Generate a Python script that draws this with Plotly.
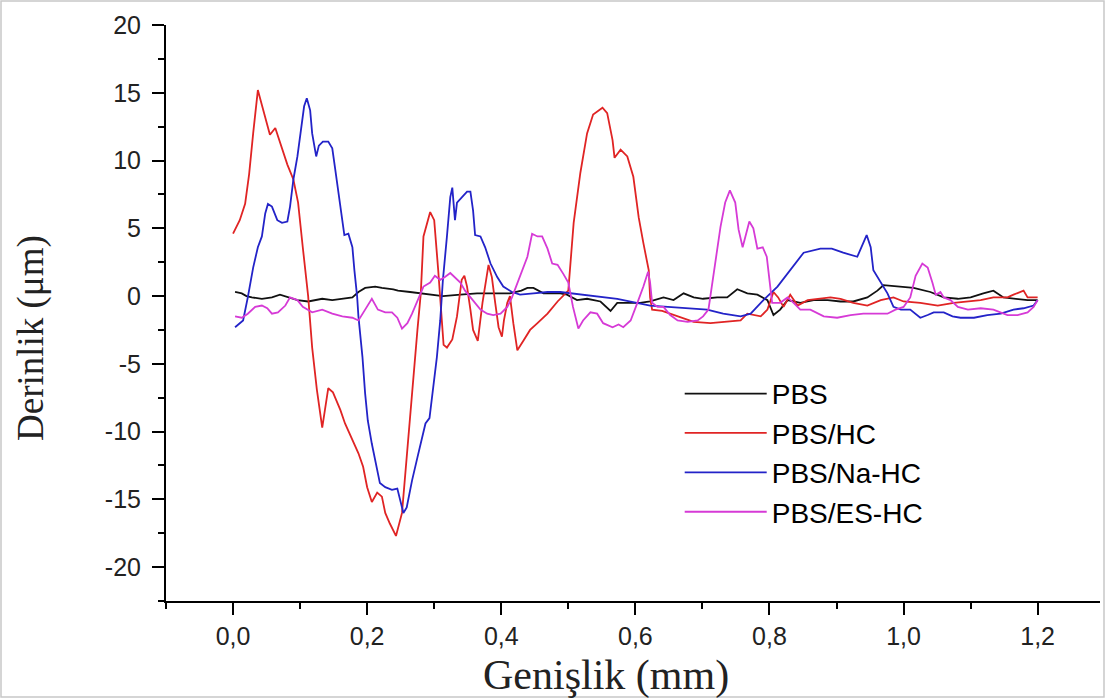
import plotly.graph_objects as go

# ---------------- data ----------------
pbs_x = [0.003, 0.013, 0.020, 0.028, 0.043, 0.058, 0.070, 0.082, 0.096, 0.112, 0.125, 0.133, 0.148, 0.163,
         0.178, 0.187, 0.197, 0.212, 0.222, 0.239, 0.246, 0.264, 0.280, 0.290, 0.313, 0.339, 0.364, 0.388,
         0.413, 0.430, 0.439, 0.448, 0.463, 0.488, 0.498, 0.513, 0.528, 0.548, 0.563, 0.573, 0.593, 0.607,
         0.622, 0.642, 0.657, 0.672, 0.687, 0.701, 0.722, 0.737, 0.752, 0.767, 0.782, 0.797, 0.806, 0.816,
         0.827, 0.846, 0.866, 0.887, 0.906, 0.925, 0.946, 0.961, 0.970, 0.991, 1.015, 1.040, 1.060, 1.081,
         1.100, 1.119, 1.134, 1.149, 1.164, 1.185, 1.200]
pbs_y = [0.3, 0.2, 0.0, -0.1, -0.2, -0.1, 0.1, -0.1, -0.3, -0.4, -0.3, -0.2, -0.3, -0.2,
         -0.1, 0.3, 0.6, 0.7, 0.6, 0.5, 0.4, 0.3, 0.2, 0.1, 0.0, 0.1, 0.2, 0.2,
         0.2, 0.4, 0.6, 0.6, 0.2, 0.2, 0.1, -0.3, -0.2, -0.4, -1.1, -0.5, -0.5, -0.5,
         -0.4, -0.1, -0.3, 0.2, -0.1, -0.2, -0.1, -0.1, 0.5, 0.2, 0.1, -0.3, -1.4, -1.0,
         -0.3, -0.5, -0.3, -0.3, -0.4, -0.4, -0.1, 0.4, 0.8, 0.7, 0.6, 0.3, -0.1, -0.2,
         -0.1, 0.2, 0.4, -0.1, -0.2, -0.3, -0.3]

hc_x = [0.000, 0.010, 0.018, 0.024, 0.030, 0.037, 0.043, 0.050, 0.055, 0.063, 0.070, 0.081, 0.090, 0.097,
        0.104, 0.112, 0.118, 0.125, 0.133, 0.142, 0.149, 0.160, 0.167, 0.178, 0.187, 0.194, 0.200, 0.207,
        0.215, 0.222, 0.227, 0.234, 0.243, 0.252, 0.264, 0.275, 0.280, 0.284, 0.294, 0.300, 0.306, 0.311,
        0.314, 0.319, 0.327, 0.334, 0.341, 0.345, 0.349, 0.354, 0.358, 0.365, 0.372, 0.381, 0.386, 0.391,
        0.396, 0.401, 0.404, 0.409, 0.413, 0.418, 0.424, 0.433, 0.443, 0.454, 0.469, 0.484, 0.500, 0.508,
        0.518, 0.528, 0.537, 0.551, 0.558, 0.566, 0.569, 0.578, 0.588, 0.597, 0.605, 0.612, 0.618, 0.620,
        0.622, 0.625, 0.640, 0.662, 0.687, 0.712, 0.737, 0.757, 0.767, 0.787, 0.797, 0.806, 0.813, 0.821,
        0.831, 0.842, 0.857, 0.872, 0.891, 0.906, 0.925, 0.946, 0.966, 0.985, 1.000, 1.025, 1.051, 1.075,
        1.096, 1.115, 1.134, 1.155, 1.164, 1.179, 1.185, 1.194, 1.200]
hc_y = [4.6, 5.6, 6.8, 9.0, 12.0, 15.2, 14.1, 12.8, 11.9, 12.4, 11.3, 9.7, 8.6, 6.9,
        3.6, 0.0, -3.8, -6.9, -9.7, -6.8, -7.1, -8.4, -9.4, -10.6, -11.6, -12.6, -14.1, -15.2,
        -14.5, -14.8, -16.0, -16.8, -17.7, -16.0, -8.6, -2.5, 0.2, 4.4, 6.2, 5.6, 1.9, -1.8,
        -3.6, -3.8, -3.2, -1.5, 1.2, 1.5, 0.7, -1.0, -2.5, -3.3, -0.5, 2.3, 1.4, -0.5,
        -2.3, -3.0, -1.8, -0.5, 0.0, -2.0, -4.0, -3.3, -2.5, -2.0, -1.3, -0.4, 0.4, 5.4,
        9.1, 12.0, 13.4, 13.9, 13.5, 11.5, 10.2, 10.8, 10.3, 8.8, 5.8, 3.9, 2.4, 1.9,
        -0.1, -1.0, -1.1, -1.5, -1.9, -2.0, -1.9, -1.8, -1.3, -1.5, -1.0, 0.3, -0.1, -0.8,
        0.1, -0.7, -0.3, -0.2, -0.1, -0.2, -0.5, -0.7, -0.3, -0.1, -0.4, -0.5, -0.7, -0.5,
        -0.4, -0.3, -0.1, -0.1, 0.1, 0.4, -0.1, -0.1, -0.1]

na_x = [0.003, 0.015, 0.022, 0.030, 0.037, 0.043, 0.048, 0.052, 0.058, 0.066, 0.073, 0.081, 0.085, 0.090,
        0.096, 0.101, 0.106, 0.110, 0.115, 0.118, 0.124, 0.128, 0.134, 0.142, 0.148, 0.152, 0.157, 0.163,
        0.166, 0.172, 0.178, 0.181, 0.185, 0.187, 0.193, 0.197, 0.201, 0.207, 0.215, 0.219, 0.227, 0.237,
        0.245, 0.249, 0.254, 0.259, 0.267, 0.275, 0.282, 0.287, 0.293, 0.298, 0.304, 0.309, 0.313, 0.319,
        0.324, 0.327, 0.331, 0.334, 0.342, 0.349, 0.354, 0.358, 0.361, 0.369, 0.376, 0.384, 0.394, 0.403,
        0.416, 0.428, 0.448, 0.469, 0.488, 0.522, 0.573, 0.622, 0.672, 0.707, 0.731, 0.757, 0.772, 0.791,
        0.812, 0.831, 0.851, 0.876, 0.893, 0.910, 0.931, 0.945, 0.951, 0.955, 0.966, 0.976, 0.985, 0.996,
        1.010, 1.025, 1.036, 1.045, 1.060, 1.073, 1.085, 1.105, 1.125, 1.145, 1.164, 1.179, 1.194, 1.200]
na_y = [-2.3, -1.8, -0.1, 2.1, 3.6, 4.4, 6.1, 6.8, 6.6, 5.6, 5.4, 5.5, 6.6, 8.6,
        10.3, 12.3, 14.0, 14.6, 13.7, 12.0, 10.3, 11.1, 11.4, 11.4, 10.9, 9.5, 7.6, 5.4,
        4.5, 4.6, 3.6, 1.9, 0.0, -1.5, -4.5, -7.2, -9.2, -10.9, -12.8, -13.8, -14.1, -14.3,
        -14.2, -15.1, -16.0, -15.6, -13.6, -11.9, -10.4, -9.4, -9.0, -7.0, -4.5, -1.8, 1.2, 4.4,
        7.3, 8.0, 5.6, 6.9, 7.3, 7.7, 7.7, 6.3, 4.5, 4.4, 3.6, 2.4, 1.4, 0.7,
        0.3, 0.1, 0.2, 0.3, 0.3, 0.1, -0.2, -0.7, -0.9, -1.0, -1.3, -1.5, -1.3, -0.3,
        0.7, 1.9, 3.2, 3.5, 3.5, 3.2, 2.9, 4.5, 3.6, 1.9, 1.0, 0.2, -0.8, -1.0,
        -1.0, -1.6, -1.4, -1.2, -1.2, -1.5, -1.6, -1.6, -1.4, -1.3, -1.0, -0.9, -0.7, -0.3]

es_x = [0.003, 0.013, 0.022, 0.033, 0.043, 0.051, 0.058, 0.067, 0.078, 0.085, 0.096, 0.104, 0.118, 0.133,
        0.148, 0.163, 0.178, 0.187, 0.197, 0.207, 0.216, 0.227, 0.237, 0.245, 0.252, 0.260, 0.267, 0.275,
        0.284, 0.294, 0.301, 0.309, 0.316, 0.324, 0.331, 0.339, 0.346, 0.354, 0.361, 0.369, 0.379, 0.388,
        0.399, 0.409, 0.416, 0.424, 0.431, 0.439, 0.446, 0.454, 0.461, 0.469, 0.476, 0.484, 0.493, 0.500,
        0.507, 0.515, 0.522, 0.533, 0.543, 0.552, 0.566, 0.575, 0.582, 0.593, 0.603, 0.612, 0.619, 0.622,
        0.625, 0.633, 0.642, 0.652, 0.663, 0.678, 0.693, 0.701, 0.709, 0.716, 0.722, 0.727, 0.734, 0.741,
        0.749, 0.754, 0.760, 0.764, 0.770, 0.776, 0.782, 0.790, 0.796, 0.800, 0.804, 0.816, 0.827, 0.836,
        0.846, 0.861, 0.881, 0.901, 0.921, 0.940, 0.961, 0.976, 0.988, 1.000, 1.010, 1.018, 1.028, 1.036,
        1.043, 1.048, 1.055, 1.060, 1.070, 1.081, 1.096, 1.115, 1.134, 1.155, 1.170, 1.185, 1.194, 1.200]
es_y = [-1.5, -1.6, -1.3, -0.8, -0.7, -0.9, -1.3, -1.2, -0.7, -0.1, -0.3, -0.8, -1.2, -1.0,
        -1.3, -1.5, -1.6, -1.8, -1.0, -0.2, -1.0, -1.2, -1.2, -1.6, -2.4, -2.0, -1.3, -0.3,
        0.7, 1.0, 1.5, 1.2, 1.4, 1.7, 1.4, 1.0, 0.4, -0.1, -0.5, -1.0, -1.3, -1.4,
        -1.3, -0.8, -0.1, 1.0, 1.9, 2.9, 4.6, 4.4, 4.4, 3.5, 2.4, 2.3, 1.6, 1.0,
        -0.8, -2.4, -1.8, -1.2, -1.3, -2.0, -2.3, -2.1, -2.3, -1.8, -0.5, 0.7, 1.8, 1.0,
        -0.5, -0.8, -0.8, -1.4, -1.8, -1.9, -1.8, -1.5, -1.0, 1.4, 3.4, 5.1, 6.9, 7.8,
        6.9, 4.9, 3.6, 4.4, 5.5, 5.0, 3.5, 3.6, 2.9, 1.2, -0.5, -0.5, -0.1, -0.5,
        -1.0, -1.0, -1.5, -1.6, -1.4, -1.3, -1.3, -1.3, -1.0, -0.8, -0.1, 1.5, 2.4, 2.1,
        1.0, 0.1, 0.3, -0.1, -0.3, -0.8, -1.0, -0.9, -1.0, -1.4, -1.4, -1.2, -0.8, -0.3]

series_names = ["PBS", "PBS/HC", "PBS/Na-HC", "PBS/ES-HC"]
series_colors = ["#111111", "#e02424", "#2323c8", "#d63ad6"]

x_tick_vals = [0.0, 0.2, 0.4, 0.6, 0.8, 1.0, 1.2]
x_tick_text = ["0,0", "0,2", "0,4", "0,6", "0,8", "1,0", "1,2"]
y_tick_vals = [-20, -15, -10, -5, 0, 5, 10, 15, 20]
y_tick_text = ["-20", "-15", "-10", "-5", "0", "5", "10", "15", "20"]

x_title = "Genişlik (mm)"
y_title = "Derinlik (μm)"

# ---------------- figure ----------------
fig = go.Figure()
for name, xs, ys, col in zip(series_names,
                             [pbs_x, hc_x, na_x, es_x],
                             [pbs_y, hc_y, na_y, es_y],
                             series_colors):
    fig.add_trace(go.Scatter(x=xs, y=ys, mode="lines", name=name,
                             line=dict(color=col, width=1.8)))

fig.update_layout(
    width=1105, height=698,
    margin=dict(l=166, r=5, t=25, b=97),
    paper_bgcolor="white", plot_bgcolor="white",
    showlegend=True,
    legend=dict(x=0.550, y=0.403, xanchor="left", yanchor="top",
                font=dict(family="Liberation Sans, Arial", size=28, color="black"),
                bgcolor="rgba(0,0,0,0)", itemwidth=82, tracegroupgap=0),
    shapes=[dict(type="rect", xref="paper", yref="paper",
                 x0=(1 - 166) / 934, x1=(1104 - 166) / 934,
                 y0=1 - (697 - 25) / 576, y1=1 - (1 - 25) / 576,
                 line=dict(color="#c8c8c8", width=1.5), layer="below")],
    annotations=[
        dict(text=x_title, xref="paper", yref="paper",
             x=(606 - 166) / 934, y=1 - (675 - 25) / 576,
             xanchor="center", yanchor="middle", showarrow=False,
             font=dict(family="Liberation Serif, Times New Roman", size=42, color="#222")),
        dict(text=y_title, xref="paper", yref="paper",
             x=(31 - 166) / 934, y=1 - (338 - 25) / 576, textangle=-90,
             xanchor="center", yanchor="middle", showarrow=False,
             font=dict(family="Liberation Serif, Times New Roman", size=37, color="#222")),
    ],
)

fig.update_xaxes(
    range=[-0.1, 1.293], showgrid=False, zeroline=False,
    showline=True, linecolor="black", linewidth=2,
    ticks="outside", ticklen=12, tickwidth=2, tickcolor="black",
    tickvals=x_tick_vals, ticktext=x_tick_text,
    tickfont=dict(family="Liberation Sans, Arial", size=25, color="#222"),
    minor=dict(dtick=0.1, tick0=0, ticks="outside", ticklen=6, tickwidth=2, tickcolor="black"),
)
fig.update_yaxes(
    range=[-22.5, 20], showgrid=False, zeroline=False,
    showline=True, linecolor="black", linewidth=2,
    ticks="outside", ticklen=12, tickwidth=2, tickcolor="black",
    tickvals=y_tick_vals, ticktext=y_tick_text, ticklabelstandoff=6,
    tickfont=dict(family="Liberation Sans, Arial", size=25, color="#222"),
    minor=dict(dtick=2.5, tick0=0, ticks="outside", ticklen=6, tickwidth=2, tickcolor="black"),
)

fig.write_html("out.html")
